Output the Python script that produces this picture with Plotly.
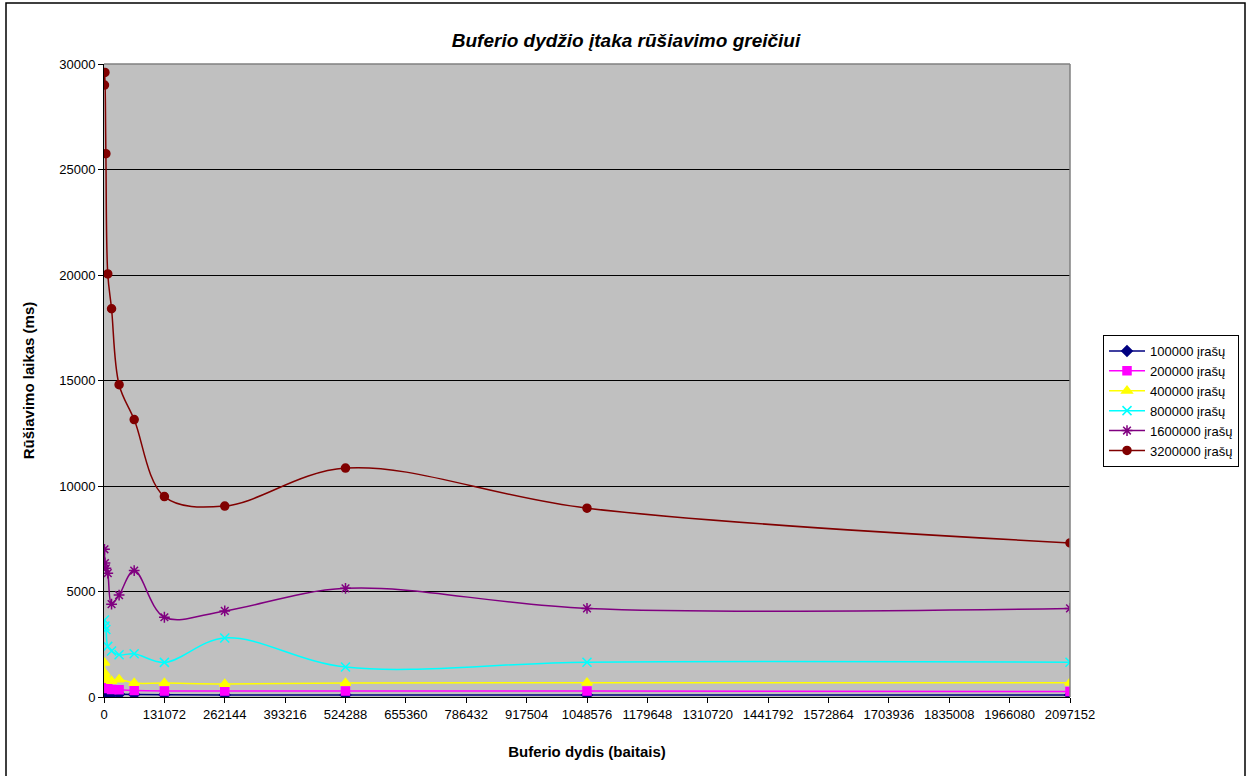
import plotly.graph_objects as go

# Buffer sizes (bytes)
buffer_sizes = [1024, 2048, 4096, 8192, 16384, 32768, 65536, 131072,
                262144, 524288, 1048576, 2097152]

# Sorting time (ms) for each record count
t_100000 = [260, 220, 180, 150, 140, 130, 120, 110, 100, 100, 100, 100]
t_200000 = [700, 600, 480, 400, 360, 340, 310, 290, 280, 280, 280, 260]
t_400000 = [1620, 1130, 900, 800, 760, 830, 660, 660, 620, 660, 680, 680]
t_800000 = [3650, 3360, 3200, 2400, 2180, 2000, 2050, 1640, 2800, 1420, 1650, 1650]
t_1600000 = [7000, 6350, 6100, 5870, 4400, 4830, 5990, 3780, 4080, 5150, 4200, 4200]
t_3200000 = [29000, 29600, 25750, 20050, 18400, 14800, 13150, 9500, 9050, 10850, 8950, 7300]

series_names = ["100000 įrašų", "200000 įrašų", "400000 įrašų",
                "800000 įrašų", "1600000 įrašų", "3200000 įrašų"]
series_values = [t_100000, t_200000, t_400000, t_800000, t_1600000, t_3200000]
series_colors = ["#000080", "#FF00FF", "#FFFF00", "#00FFFF", "#800080", "#800000"]
series_symbols = ["diamond", "square", "triangle-up", "x-thin-open",
                  "asterisk-open", "circle"]
series_sizes = [8, 8, 9, 9, 9, 8]

x_ticks = [131072 * i for i in range(17)]

fig = go.Figure()
for name, vals, col, sym, sz in zip(series_names, series_values, series_colors,
                                    series_symbols, series_sizes):
    fig.add_trace(go.Scatter(
        x=buffer_sizes, y=vals, name=name, mode="lines+markers",
        line=dict(color=col, width=1.5, shape="spline", smoothing=1.0),
        marker=dict(symbol=sym, size=sz, color=col,
                    line=dict(color=col, width=1.5)),
    ))

fig.update_layout(
    width=1252, height=776,
    margin=dict(l=104, r=182, t=64, b=79),
    paper_bgcolor="white",
    plot_bgcolor="#C0C0C0",
    font=dict(family="Liberation Sans, Arial, sans-serif", size=13, color="black"),
    title=dict(
        text="<b><i>Buferio dydžio įtaka rūšiavimo greičiui</i></b>",
        x=0.5, xanchor="center", xref="container",
        y=1 - 40 / 776, yanchor="middle",
        font=dict(size=19),
    ),
    xaxis=dict(
        range=[0, 2097152], tickvals=x_ticks,
        ticktext=[str(v) for v in x_ticks],
        ticks="outside", ticklen=5, tickcolor="black",
        showline=True, linecolor="black", linewidth=1,
        showgrid=False, zeroline=False,
        tickfont=dict(size=13),
        title=dict(text="<b>Buferio dydis (baitais)</b>", font=dict(size=15),
                   standoff=25),
    ),
    yaxis=dict(
        range=[0, 30000], dtick=5000, tickformat="d",
        ticks="outside", ticklen=5, tickcolor="black",
        showline=True, linecolor="black", linewidth=1,
        showgrid=True, gridcolor="black", gridwidth=1,
        zeroline=False,
        tickfont=dict(size=13),
        title=dict(text="<b>Rūšiavimo laikas (ms)</b>", font=dict(size=15),
                   standoff=20),
    ),
    legend=dict(
        x=(1103 - 104) / 966, xanchor="left",
        y=(697 - 335) / 633, yanchor="top",
        bgcolor="white", bordercolor="black", borderwidth=1,
        font=dict(size=13), tracegroupgap=0, itemwidth=36,
    ),
    showlegend=True,
)

# Plot-area frame (grey top and right edges) and outer chart border
fig.add_shape(type="line", xref="paper", yref="paper", x0=0, x1=1, y0=1, y1=1,
              line=dict(color="#808080", width=1.5))
fig.add_shape(type="line", xref="paper", yref="paper", x0=1, x1=1, y0=0, y1=1,
              line=dict(color="#808080", width=1.5))
fig.add_shape(type="rect", xref="paper", yref="paper",
              x0=-98 / 966, x1=(1245 - 104) / 966,
              y0=-(776 - 697 + 5) / 633, y1=(697 - 3) / 633,
              line=dict(color="black", width=1.5), layer="below")

fig.write_html("out.html")
